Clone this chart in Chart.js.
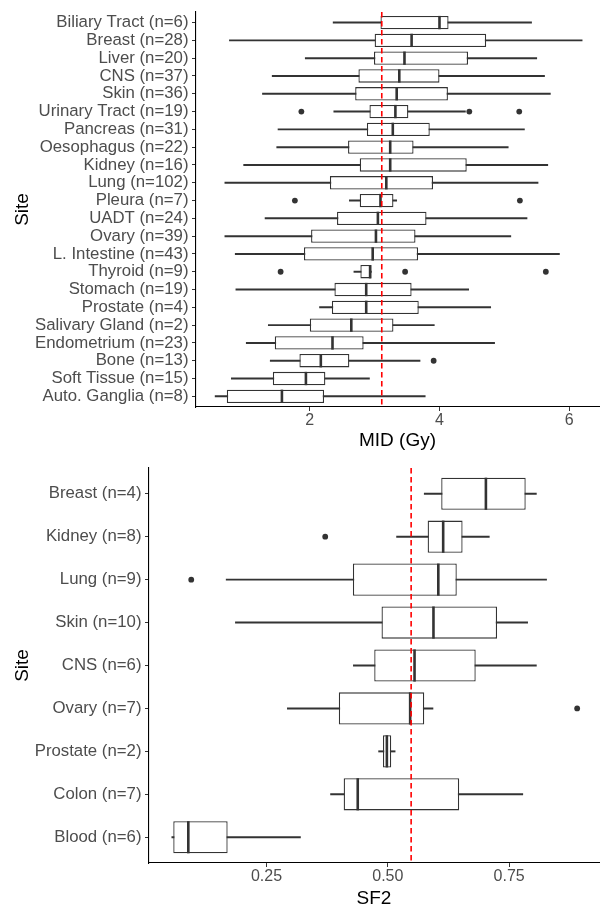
<!DOCTYPE html>
<html>
<head>
<meta charset="utf-8">
<script src="https://cdn.jsdelivr.net/npm/chart.js@4"></script>
<style>
  html, body { margin: 0; padding: 0; background: #ffffff; }
  #wrap { position: relative; width: 603px; height: 909px; overflow: hidden; }
  canvas { position: absolute; left: 0; }
  #c1 { top: 0; }
  #c2 { top: 455px; }
</style>
</head>
<body>
<div id="wrap">
  <canvas id="c1" width="603" height="455"></canvas>
  <canvas id="c2" width="603" height="454"></canvas>
</div>
<script>
// ---------- Top panel: MID (Gy) ----------
const midSites = ['Biliary Tract (n=6)', 'Breast (n=28)', 'Liver (n=20)', 'CNS (n=37)', 'Skin (n=36)',
  'Urinary Tract (n=19)', 'Pancreas (n=31)', 'Oesophagus (n=22)', 'Kidney (n=16)', 'Lung (n=102)',
  'Pleura (n=7)', 'UADT (n=24)', 'Ovary (n=39)', 'L. Intestine (n=43)', 'Thyroid (n=9)',
  'Stomach (n=19)', 'Prostate (n=4)', 'Salivary Gland (n=2)', 'Endometrium (n=23)', 'Bone (n=13)',
  'Soft Tissue (n=15)', 'Auto. Ganglia (n=8)'];
const midMin    = [2.36, 0.76, 1.93, 1.42, 1.27, 2.37, 1.51, 1.49, 0.98, 0.69, 2.61, 1.31, 0.69, 0.85, 2.68, 0.86, 2.15, 1.36, 1.02, 1.39, 0.79, 0.54];
const midQ1     = [3.09, 3.00, 2.99, 2.75, 2.70, 2.92, 2.88, 2.59, 2.77, 2.31, 2.77, 2.42, 2.02, 1.91, 2.78, 2.38, 2.34, 2.00, 1.46, 1.84, 1.43, 0.72];
const midMedian = [4.00, 3.57, 3.46, 3.38, 3.34, 3.32, 3.28, 3.24, 3.24, 3.18, 3.09, 3.05, 3.02, 2.97, 2.93, 2.87, 2.87, 2.64, 2.35, 2.17, 1.94, 1.57];
const midQ3     = [4.14, 4.72, 4.44, 4.00, 4.13, 3.52, 3.85, 3.60, 4.42, 3.90, 3.29, 3.80, 3.63, 3.67, 2.95, 3.57, 3.68, 3.29, 2.83, 2.61, 2.24, 2.22];
const midMax    = [5.42, 6.20, 5.50, 5.62, 5.71, 4.40, 5.31, 5.06, 5.67, 5.52, 3.34, 5.35, 5.10, 5.85, 2.95, 4.45, 4.79, 3.92, 4.85, 3.70, 2.92, 3.78];
const midOutlierSite  = ['Urinary Tract (n=19)', 'Urinary Tract (n=19)', 'Urinary Tract (n=19)',
  'Pleura (n=7)', 'Pleura (n=7)', 'Thyroid (n=9)', 'Thyroid (n=9)', 'Thyroid (n=9)', 'Bone (n=13)'];
const midOutlierValue = [1.87, 4.46, 5.23, 1.77, 5.24, 1.55, 3.47, 5.64, 3.91];
const midTicks = [2, 4, 6];
const midReference = 3.11;

// ---------- Bottom panel: SF2 ----------
const sf2Sites = ['Breast (n=4)', 'Kidney (n=8)', 'Lung (n=9)', 'Skin (n=10)', 'CNS (n=6)',
  'Ovary (n=7)', 'Prostate (n=2)', 'Colon (n=7)', 'Blood (n=6)'];
const sf2Min    = [0.575, 0.518, 0.167, 0.186, 0.429, 0.293, 0.481, 0.382, 0.055];
const sf2Q1     = [0.610, 0.582, 0.428, 0.487, 0.472, 0.399, 0.490, 0.409, 0.058];
const sf2Median = [0.702, 0.614, 0.604, 0.594, 0.555, 0.546, 0.498, 0.438, 0.089];
const sf2Q3     = [0.784, 0.654, 0.642, 0.725, 0.681, 0.575, 0.507, 0.647, 0.170];
const sf2Max    = [0.806, 0.709, 0.827, 0.788, 0.806, 0.593, 0.515, 0.778, 0.320];
const sf2OutlierSite  = ['Kidney (n=8)', 'Lung (n=9)', 'Ovary (n=7)'];
const sf2OutlierValue = [0.371, 0.095, 0.890];
const sf2Ticks = [0.25, 0.50, 0.75];
const sf2Reference = 0.548;

// ---------- shared styling ----------
const FONT = "'Liberation Sans', Arial, sans-serif";
const BOX_LINE = '#333333';

const refLinePlugin = {
  id: 'refLine',
  afterDatasetsDraw(chart, args, opts) {
    const {ctx, chartArea, scales} = chart;
    const x = scales.x.getPixelForValue(opts.value);
    ctx.save();
    ctx.strokeStyle = '#FF0000';
    ctx.lineWidth = 1.6;
    ctx.setLineDash([5.5, 3.5]);
    ctx.beginPath();
    ctx.moveTo(x, chartArea.top);
    ctx.lineTo(x, chartArea.bottom);
    ctx.stroke();
    ctx.restore();
  }
};

function buildBoxChart(canvasId, cfg) {
  const n = cfg.sites.length;
  const pos = cfg.sites.map((s, i) => i + 1);
  const idx = s => cfg.sites.indexOf(s) + 1;
  const halfBox = ctx => {
    const s = ctx.chart.scales.y;
    return Math.abs(s.getPixelForValue(1.375) - s.getPixelForValue(1));
  };
  return new Chart(document.getElementById(canvasId), {
    type: 'bar',
    data: {
      datasets: [
        { // medians
          type: 'scatter',
          order: 0,
          data: pos.map((p, i) => ({x: cfg.median[i], y: p})),
          pointStyle: 'line',
          rotation: 90,
          radius: halfBox,
          hoverRadius: halfBox,
          borderColor: BOX_LINE,
          borderWidth: 2.6,
          backgroundColor: BOX_LINE
        },
        { // outliers
          type: 'scatter',
          order: 0,
          data: cfg.outSite.map((s, i) => ({x: cfg.outVal[i], y: idx(s)})),
          pointStyle: 'circle',
          radius: 2.9,
          borderWidth: 0,
          backgroundColor: '#333333'
        },
        { // boxes
          type: 'bar',
          indexAxis: 'y',
          order: 1,
          grouped: false,
          data: pos.map((p, i) => ({x: [cfg.q1[i], cfg.q3[i]], y: p})),
          backgroundColor: '#ffffff',
          borderColor: BOX_LINE,
          borderWidth: 1.3,
          borderSkipped: false,
          barPercentage: 0.75,
          categoryPercentage: 1.0
        },
        { // whiskers
          type: 'bar',
          indexAxis: 'y',
          order: 2,
          grouped: false,
          data: pos.map((p, i) => ({x: [cfg.min[i], cfg.max[i]], y: p})),
          backgroundColor: BOX_LINE,
          borderWidth: 0,
          barThickness: 1.3
        }
      ]
    },
    options: {
      responsive: false,
      animation: false,
      devicePixelRatio: 1,
      indexAxis: 'y',
      layout: { padding: { top: cfg.padTop, left: 0, right: 0, bottom: 0 } },
      events: [],
      plugins: {
        legend: { display: false },
        tooltip: { enabled: false },
        refLine: { value: cfg.ref }
      },
      scales: {
        x: {
          type: 'linear',
          offset: false,
          min: cfg.xMin,
          max: cfg.xMax,
          afterBuildTicks: s => { s.ticks = cfg.ticks.map(v => ({value: v})); },
          ticks: {
            callback: cfg.tickFmt,
            font: { family: FONT, size: 16, lineHeight: 1 },
            color: '#4D4D4D',
            padding: 2,
            maxRotation: 0,
            autoSkip: false
          },
          grid: { offset: false, drawOnChartArea: false, drawTicks: true, tickLength: 4, color: '#333333', lineWidth: 1 },
          border: { display: true, color: '#000000', width: 1.1 },
          title: {
            display: true, text: cfg.xTitle, color: '#000000',
            font: { family: FONT, size: 19, lineHeight: 1 },
            padding: { top: 0, bottom: cfg.titlePadBottom }
          },
          afterFit: s => { s.height = cfg.xAxisHeight; }
        },
        y: {
          type: 'linear',
          offset: false,
          reverse: true,
          min: 0.4,
          max: n + 0.6,
          afterBuildTicks: s => { s.ticks = pos.map(v => ({value: v})); },
          ticks: {
            callback: v => cfg.sites[Math.round(v) - 1] || '',
            font: { family: FONT, size: 16.8, lineHeight: 1 },
            color: '#4D4D4D',
            padding: 3.5,
            autoSkip: false
          },
          grid: { offset: false, drawOnChartArea: false, drawTicks: true, tickLength: 4, color: '#333333', lineWidth: 1 },
          border: { display: true, color: '#000000', width: 1.1 },
          title: {
            display: true, text: 'Site', color: '#000000',
            font: { family: FONT, size: 19, lineHeight: 1 },
            padding: { top: 13.5, bottom: 0 }
          },
          afterFit: s => { s.width = cfg.yAxisWidth; }
        }
      }
    },
    plugins: [refLinePlugin]
  });
}

buildBoxChart('c1', {
  sites: midSites, min: midMin, q1: midQ1, median: midMedian, q3: midQ3, max: midMax,
  outSite: midOutlierSite, outVal: midOutlierValue, ticks: midTicks, ref: midReference,
  xMin: 0.245, xMax: 6.46, xTitle: 'MID (Gy)', tickFmt: v => String(v),
  padTop: 11, xAxisHeight: 48, yAxisWidth: 196, titlePadBottom: 4.5
});

buildBoxChart('c2', {
  sites: sf2Sites, min: sf2Min, q1: sf2Q1, median: sf2Median, q3: sf2Q3, max: sf2Max,
  outSite: sf2OutlierSite, outVal: sf2OutlierValue, ticks: sf2Ticks, ref: sf2Reference,
  xMin: 0.008, xMax: 0.935, xTitle: 'SF2', tickFmt: v => Number(v).toFixed(2),
  padTop: 13, xAxisHeight: 46, yAxisWidth: 149, titlePadBottom: 1
});
</script>
</body>
</html>
